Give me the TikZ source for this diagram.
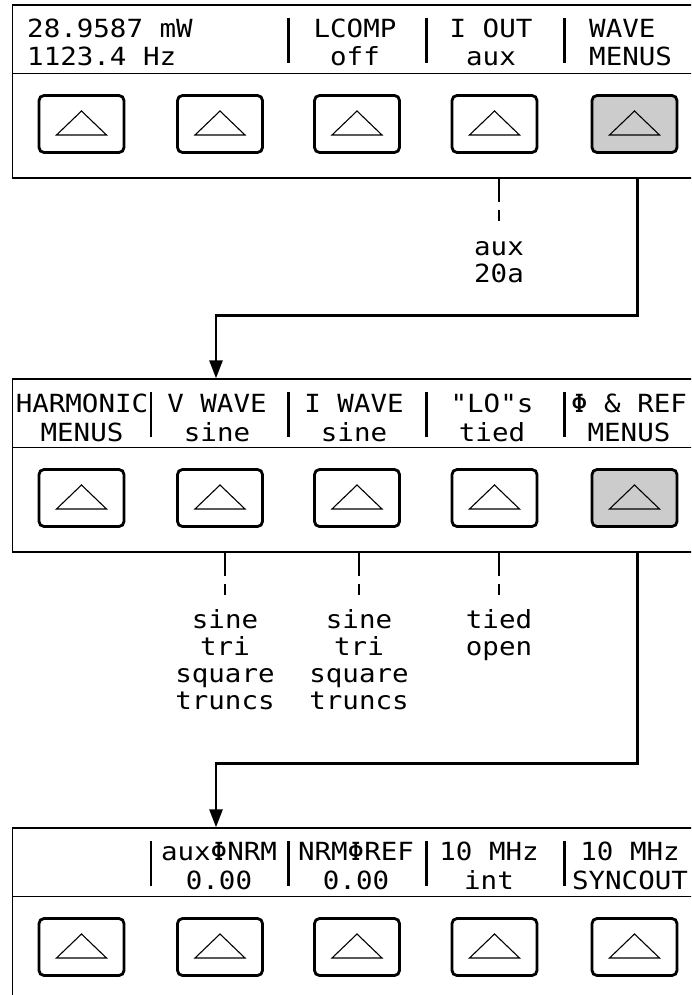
\documentclass[tikz,border=0pt]{standalone}
\usepackage{fontspec}
\newfontfamily\lcd[FakeStretch=1.1]{DejaVu Sans Mono}
\usetikzlibrary{arrows.meta}

\begin{document}
\begin{tikzpicture}[x=1pt, y=-1pt,
  panel/.style={draw, line width=1.3pt, minimum width=692pt, minimum height=173pt, inner sep=0pt},
  softkey/.style={draw, line width=2.8pt, rounded corners=5pt, fill=white,
                  minimum width=85pt, minimum height=57pt, inner sep=0pt,
                  path picture={\draw[line width=1.1pt, sharp corners]
                    ([shift={(-25pt,-11pt)}]path picture bounding box.center) --
                    ([shift={(0pt,13pt)}]path picture bounding box.center) --
                    ([shift={(25pt,-11pt)}]path picture bounding box.center) -- cycle;}},
  lit/.style={softkey, fill=black!20},
  lcd/.style={font=\lcd\fontsize{25}{28.5}\selectfont, inner sep=0pt, anchor=base, align=center},
  choice/.style={lcd, font=\lcd\fontsize{25}{27}\selectfont},
  sepbar/.style={line width=2.6pt},
  divider/.style={line width=1.3pt},
  flow/.style={line width=2.7pt, -{Triangle[width=13pt,length=18pt]}},
  hint/.style={line width=1.5pt, dash pattern=on 23pt off 8pt on 11pt off 40pt}
]
  \useasboundingbox (0,0) rectangle (691,995);
  \clip (0,0) rectangle (691,995);

  % three menu levels
  \node[panel] (p1) at (358.5,91.5)  {};
  \node[panel] (p2) at (358.5,465.5) {};
  \node[panel] (p3) at (358.5,914.5) {};
  \draw[divider] ([yshift=-69pt]p1.north west) -- ([yshift=-69pt]p1.north east);
  \draw[divider] ([yshift=-69pt]p2.north west) -- ([yshift=-69pt]p2.north east);
  \draw[divider] ([yshift=-69pt]p3.north west) -- ([yshift=-69pt]p3.north east);

  % softkeys
  \node[softkey] (k11) at (81.5,124)  {};
  \node[softkey] (k12) at (220,124)   {};
  \node[softkey] (k13) at (357,124)   {};
  \node[softkey] (k14) at (494.5,124) {};
  \node[lit]     (k15) at (634.5,124) {};
  \node[softkey] (k21) at (81.5,498)  {};
  \node[softkey] (k22) at (220,498)   {};
  \node[softkey] (k23) at (357,498)   {};
  \node[softkey] (k24) at (494.5,498) {};
  \node[lit]     (k25) at (634.5,498) {};
  \node[softkey] (k31) at (81.5,947)  {};
  \node[softkey] (k32) at (220,947)   {};
  \node[softkey] (k33) at (357,947)   {};
  \node[softkey] (k34) at (494.5,947) {};
  \node[softkey] (k35) at (634.5,947) {};

  % display texts (base = last line)
  \node[lcd, anchor=base west, align=left] (disp) at (27,66) {28.9587 mW\\1123.4 Hz};
  \node[lcd] (lcomp) at (355,66) {LCOMP\\off};
  \node[lcd] (iout)  at (491,66) {I OUT\\aux};
  \node[lcd, anchor=base west, align=left] (wave) at (589,66) {WAVE\\MENUS};
  \draw[sepbar] (288.5,18) -- ++(0,45) (426.5,18) -- ++(0,45) (564.5,18) -- ++(0,45);

  \node[lcd] (harm)  at (82,441)  {HARMONIC\\MENUS};
  \node[lcd] (vwave) at (217,441) {V WAVE\\sine};
  \node[lcd] (iwave) at (354,441) {I WAVE\\sine};
  \node[lcd] (lo)    at (492,441) {"LO"s\\tied};
  \node[lcd] (phref) at (629,441) {Φ \& REF\\MENUS};
  \draw[sepbar] (151,392) -- ++(0,45) (288.5,392) -- ++(0,45) (426.5,392) -- ++(0,45) (564.5,392) -- ++(0,45);

  \node[lcd] (auxnrm)  at (219,889) {auxΦNRM\\0.00};
  \node[lcd] (nrmref)  at (356,889) {NRMΦREF\\0.00};
  \node[lcd] (tenint)  at (489,889) {10 MHz\\int};
  \node[lcd] (tensync) at (630,889) {10 MHz\\SYNCOUT};
  \draw[sepbar] (151,841) -- ++(0,45) (288.5,841) -- ++(0,45) (426.5,841) -- ++(0,45) (564.5,841) -- ++(0,45);

  % choices under the keys
  \node[choice] (auxopt) at (499,282) {aux\\20a};
  \node[choice] (vopt)   at (225,709) {sine\\tri\\square\\truncs};
  \node[choice] (iopt)   at (359,709) {sine\\tri\\square\\truncs};
  \node[choice] (loopt)  at (499,655) {tied\\open};
  \draw[hint] (p1.south -| auxopt) -- ++(0,42);
  \draw[hint] (p2.south -| vopt)   -- ++(0,42);
  \draw[hint] (p2.south -| iopt)   -- ++(0,42);
  \draw[hint] (p2.south -| loopt)  -- ++(0,42);

  % menu paths
  \draw[flow] ([xshift=3pt]p1.south -| k15) -- ++(0,137) -| ([xshift=-4pt]p2.north -| k22);
  \draw[flow] ([xshift=3pt]p2.south -| k25) -- ++(0,211) -| ([xshift=-4pt]p3.north -| k32);
\end{tikzpicture}
\end{document}
